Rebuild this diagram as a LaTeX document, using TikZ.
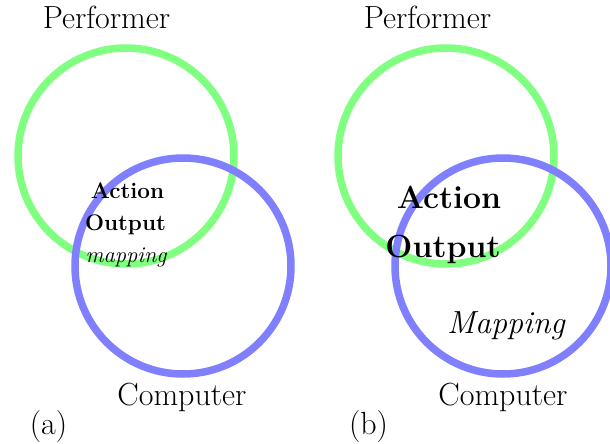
\documentclass[tikz,border=0pt]{standalone}
\usepackage{tikz}
\tikzset{
  ring/.style={circle, draw, line width=7.5pt, minimum size=216pt, inner sep=0pt},
  perfring/.style={ring, draw=green!50},
  compring/.style={ring, draw=blue!50},
  bigtxt/.style={anchor=base, inner sep=0pt, font=\fontsize{32}{38}\selectfont},
  smalltxt/.style={anchor=base, inner sep=0pt, font=\fontsize{22.5}{27}\selectfont},
}
\begin{document}
\begin{tikzpicture}[x=1pt,y=-1pt]
\useasboundingbox (0,0) rectangle (610,444);
\clip (0,0) rectangle (610,444);
% (a)
\node[perfring] (pa) at (126,156) {};
\node[compring] (ca) at (183,266) {};
\node[bigtxt] (lpa) at (106.5,29) {Performer};
\node[bigtxt] (lca) at (182,405) {Computer};
\node[bigtxt] (laba) at (48.5,434) {(a)};
\node[smalltxt] (acta) at (127.5,198) {\bfseries Action};
\node[smalltxt] (outa) at (125.5,230) {\bfseries Output};
\node[smalltxt] (mapa) at (126,262) {\itshape mapping};
% (b)
\node[perfring] (pb) at (446,156) {};
\node[compring] (cb) at (503,266) {};
\node[bigtxt] (lpb) at (427.5,29) {Performer};
\node[bigtxt] (lcb) at (503,405) {Computer};
\node[bigtxt] (labb) at (368.5,434) {(b)};
\node[bigtxt] (actb) at (449,208) {\bfseries Action};
\node[bigtxt] (outb) at (443,257) {\bfseries Output};
\node[bigtxt] (mapb) at (506,333) {\itshape Mapping};
\end{tikzpicture}
\end{document}
